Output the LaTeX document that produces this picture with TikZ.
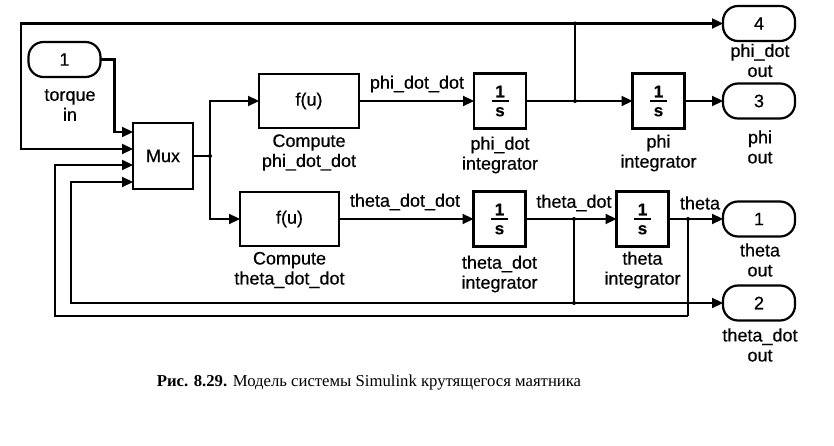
\documentclass[tikz,border=0pt]{standalone}
\usepackage{fontspec}
\setmainfont[FakeBold=0.4]{Liberation Sans}
\newfontfamily\capfont{Liberation Serif}
\usetikzlibrary{arrows.meta,calc}
\begin{document}
\begin{tikzpicture}[x=1pt,y=-1pt,
  every node/.style={inner sep=0pt,outer sep=0pt},
  wire/.style={line width=2.2pt},
  arr/.style={wire,-{Triangle[length=11pt,width=10pt]}},
  blk/.style={draw,line width=2.2pt,font=\fontsize{18}{21}\selectfont},
  port/.style={draw,line width=2.2pt,rounded corners=15pt,minimum width=72pt,minimum height=35pt,font=\fontsize{18}{21}\selectfont},
  lbl/.style={align=center,font=\fontsize{18}{20}\selectfont},
  intg/.style={blk,minimum width=52pt,minimum height=55pt,align=center,font=\fontsize{17}{9.5}\selectfont\bfseries},
  jdot/.style={circle,fill=black,inner sep=0pt,minimum size=4pt}
]
\useasboundingbox (0,0) rectangle (834,446);

% blocks
\node[port] (in1) at (64.5,59.5) {1};
\node[lbl] (in1l) at (70,105) {torque\\in};
\node[blk,minimum width=60pt,minimum height=66pt] (mux) at (163,156) {Mux};
\node[blk,minimum width=100pt,minimum height=54pt] (fphi) at (309,101) {f(u)};
\node[lbl] (fphil) at (309,152.5) {Compute\\phi\_dot\_dot};
\node[blk,minimum width=99pt,minimum height=54pt] (fth) at (289.5,219) {f(u)};
\node[lbl] (fthl) at (289.5,270) {Compute\\theta\_dot\_dot};
\node[intg] (iphid) at (500,101) {1\\\rule[5pt]{17pt}{1.6pt}\\s};
\node[lbl] (iphidl) at (500,155) {phi\_dot\\integrator};
\node[intg] (iphi) at (658.5,101) {1\\\rule[5pt]{17pt}{1.6pt}\\s};
\node[lbl] (iphil) at (658.5,153) {phi\\integrator};
\node[intg] (ithd) at (499.5,219) {1\\\rule[5pt]{17pt}{1.6pt}\\s};
\node[lbl] (ithdl) at (499.5,274) {theta\_dot\\integrator};
\node[intg] (ith) at (642.5,219) {1\\\rule[5pt]{17pt}{1.6pt}\\s};
\node[lbl] (ithl) at (642.5,270) {theta\\integrator};

\node[port] (out4) at (759,23.5) {4};
\node[lbl] (out4l) at (760,60.5) {phi\_dot\\out};
\node[port] (out3) at (759,101) {3};
\node[lbl] (out3l) at (760,147) {phi\\out};
\node[port] (out1) at (759,219) {1};
\node[lbl] (out1l) at (760,260) {theta\\out};
\node[port] (out2) at (759,303) {2};
\node[lbl] (out2l) at (760,345) {theta\_dot\\out};

% signal labels
\node[lbl] (sl1) at (417,84) {phi\_dot\_dot};
\node[lbl] (sl2) at (405,202) {theta\_dot\_dot};
\node[lbl] (sl3) at (574,203) {theta\_dot};
\node[lbl] (sl4) at (700,203) {theta};

% mux input points
\coordinate (m1) at (mux.west |- 0,132);
\coordinate (m2) at (mux.west |- 0,149);
\coordinate (m3) at (mux.west |- 0,165);
\coordinate (m4) at (mux.west |- 0,182);

% junctions
\coordinate (j1) at (210,156);
\coordinate (j2) at (575,101);
\coordinate (j2t) at (575,23.5);
\coordinate (j3) at (574,219);
\coordinate (j3b) at (574,303);
\coordinate (j4) at (688,219);
\coordinate (j4b) at (688,316);

% connectors
\draw[arr] (in1.east) -- ++(14,0) |- (m1);
\draw[wire] (mux.east) -- (j1);
\draw[arr] (j1) |- (fphi.west);
\draw[arr] (j1) |- (fth.west);
\draw[arr] (fphi.east) -- (iphid.west);
\draw[arr] (iphid.east) -- (iphi.west);
\draw[arr] (iphi.east) -- (out3.west);
\draw[wire] (j2) -- (j2t);
\draw[arr] (j2t) -- (out4.west);
\draw[arr] (j2t) -- (21,23.5) |- (m2);
\draw[arr] (fth.east) -- (ithd.west);
\draw[arr] (ithd.east) -- (ith.west);
\draw[arr] (ith.east) -- (out1.west);
\draw[wire] (j3) -- (j3b);
\draw[arr] (j3b) -- (out2.west);
\draw[arr] (j3b) -- (71,303) |- (m4);
\draw[wire] (j4) -- (j4b);
\draw[arr] (j4b) -- (55,316) |- (m3);

\foreach \j in {j1,j2,j2t,j3,j3b,j4}
  \node[jdot] at (\j) {};

% caption
\node (cap) at (369,383) {\capfont\fontsize{16.7}{19}\selectfont\textbf{Рис. 8.29.} Модель системы Simulink крутящегося маятника};
\end{tikzpicture}
\end{document}
